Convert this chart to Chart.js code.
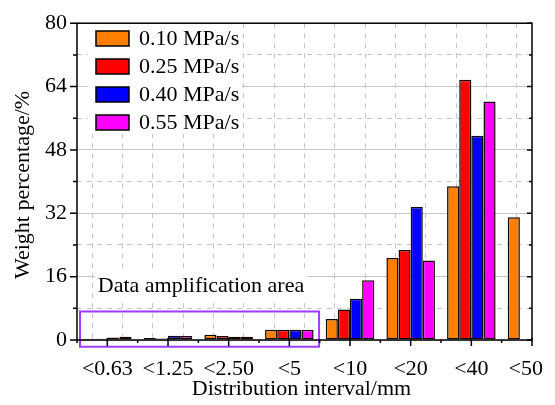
<!DOCTYPE html>
<html>
<head>
<meta charset="utf-8">
<script src="https://cdn.jsdelivr.net/npm/chart.js@4.4.0/dist/chart.umd.min.js"></script>
<style>
    html, body { margin: 0; padding: 0; background: #fff; }
    #sizeChart { display: block; }
</style>
</head>
<body>
<canvas id="sizeChart" width="555" height="405"></canvas>
<script>
// Size intervals (one group of bars per interval)
const intervals = ['<0.63', '<1.25', '<2.50', '<5', '<10', '<20', '<40', '<50'];

// Weight percentage per loading rate
const rate010 = [0.3, 0.5, 1.3, 2.6, 5.3, 20.7, 38.8, 31.0];
const rate025 = [0.3, 0.4, 1.0, 2.6, 7.7, 22.7, 65.7];
const rate040 = [0.6, 1.1, 0.8, 2.6, 10.4, 33.6, 51.6];
const rate055 = [0.8, 1.0, 0.8, 2.6, 15.1, 20.1, 60.2];

const seriesNames = ['0.10 MPa/s', '0.25 MPa/s', '0.40 MPa/s', '0.55 MPa/s'];
const seriesColors = ['#ff8000', '#ff0000', '#0000ff', '#ff00ff'];

// Highlight box around the small fractions, in axis units
const zoomBox = { xMin: 0.55, xMax: 4.49, yMin: -1.7, yMax: 7.2 };

const SERIF = "'Liberation Serif', 'Times New Roman', serif";

function toPoints(values) {
    return values.map((v, i) => ({ x: i + 1, y: v }));
}

const allSeries = [rate010, rate025, rate040, rate055];

// ticks run every half unit, so the bar ruler sees 0.5 as the sample size;
// 1.6 of that gives a group 0.8 of an interval wide
const datasets = allSeries.map((vals, i) => ({
    label: seriesNames[i],
    data: toPoints(vals),
    backgroundColor: seriesColors[i],
    borderColor: '#100800',
    borderWidth: 1.5,
    borderSkipped: false,
    categoryPercentage: 1.6,
    barPercentage: 1.0
}));

// Frame, tick marks, x labels, titles, legend and the highlight box
const decorPlugin = {
    id: 'decor',
    afterDraw(chart) {
        const ctx = chart.ctx;
        const area = chart.chartArea;
        const xs = chart.scales.x;
        const ys = chart.scales.y;

        ctx.save();

        // highlight box + caption
        const bx1 = xs.getPixelForValue(zoomBox.xMin);
        const bx2 = xs.getPixelForValue(zoomBox.xMax);
        const by1 = ys.getPixelForValue(zoomBox.yMax);
        const by2 = ys.getPixelForValue(zoomBox.yMin);
        ctx.strokeStyle = '#9b3cff';
        ctx.lineWidth = 2;
        ctx.strokeRect(bx1, by1, bx2 - bx1, by2 - by1);

        ctx.font = '22px ' + SERIF;
        const caption = 'Data amplification area';
        const cw = ctx.measureText(caption).width;
        const cx = 201;
        ctx.fillStyle = '#fff';
        ctx.fillRect(cx - cw / 2 - 3, 270, cw + 6, 30);
        ctx.fillStyle = '#000';
        ctx.textAlign = 'center';
        ctx.textBaseline = 'alphabetic';
        ctx.fillText(caption, cx, 292);

        // legend inside the plot
        ctx.fillStyle = '#fff';
        ctx.fillRect(88, 24, 154, 110);
        chart.data.datasets.forEach((ds, i) => {
            const rowY = 38.5 + i * 28;
            ctx.fillStyle = ds.backgroundColor;
            ctx.fillRect(96, rowY - 7.5, 33, 15);
            ctx.strokeStyle = '#000';
            ctx.lineWidth = 1.5;
            ctx.strokeRect(96, rowY - 7.5, 33, 15);
            ctx.fillStyle = '#000';
            ctx.textAlign = 'left';
            ctx.textBaseline = 'middle';
            ctx.fillText(ds.label, 139, rowY + 1);
        });

        // axis frame
        ctx.strokeStyle = '#000';
        ctx.lineWidth = 1.5;
        ctx.strokeRect(area.left, area.top, area.right - area.left, area.bottom - area.top);

        // y tick marks: outward on the left, inward on the right
        ys.ticks.forEach(t => {
            const y = ys.getPixelForValue(t.value);
            const major = t.value % 16 === 0;
            ctx.beginPath();
            ctx.moveTo(area.left, y);
            ctx.lineTo(area.left - (major ? 7 : 4), y);
            ctx.moveTo(area.right, y);
            ctx.lineTo(area.right - (major ? 5 : 3), y);
            ctx.stroke();
        });

        // x tick marks and interval labels
        ctx.font = '22px ' + SERIF;
        ctx.fillStyle = '#000';
        ctx.textBaseline = 'alphabetic';
        ctx.textAlign = 'center';
        xs.ticks.forEach(t => {
            const x = xs.getPixelForValue(t.value);
            const major = Number.isInteger(t.value);
            ctx.beginPath();
            ctx.moveTo(x, area.bottom - (major ? 2 : 0));
            ctx.lineTo(x, area.bottom + (major ? 6 : 3));
            ctx.stroke();
            if (major) {
                const text = intervals[t.value - 1];
                const w = ctx.measureText(text).width;
                const lx = Math.min(x, 543 - w / 2);
                ctx.fillText(text, lx, 375);
            }
        });

        // axis titles
        ctx.textAlign = 'center';
        ctx.fillText('Distribution interval/mm', (area.left + area.right) / 2 - 3, 395);

        ctx.translate(29, 185);
        ctx.rotate(-Math.PI / 2);
        ctx.fillText('Weight percentage/%', 0, 0);

        ctx.restore();
    }
};

window.sizeChart = new Chart(document.getElementById('sizeChart'), {
    type: 'bar',
    data: { datasets: datasets },
    options: {
        responsive: false,
        animation: false,
        layout: {
            padding: { left: 0, top: 16, right: 23, bottom: 0 }
        },
        plugins: {
            legend: { display: false },
            tooltip: { enabled: false }
        },
        scales: {
            x: {
                type: 'linear',
                min: 0.5,
                max: 8,
                offset: false,
                ticks: { display: false, stepSize: 0.5 },
                grid: { color: '#c4c4c4', lineWidth: 1, drawTicks: false },
                border: { display: false, dash: [5, 5] },
                afterFit(scale) { scale.height = 65; }
            },
            y: {
                min: 0,
                max: 80,
                ticks: {
                    stepSize: 8,
                    padding: 10,
                    color: '#000',
                    font: { family: SERIF, size: 22 },
                    callback: v => (v % 16 === 0 ? v : '')
                },
                grid: { color: '#c4c4c4', lineWidth: 1, drawTicks: false },
                border: {
                    display: false,
                    dash: c => (c.tick && c.tick.value % 16 !== 0 ? [5, 5] : [])
                },
                afterFit(scale) { scale.width = 77; }
            }
        }
    },
    plugins: [decorPlugin]
});
</script>
</body>
</html>
